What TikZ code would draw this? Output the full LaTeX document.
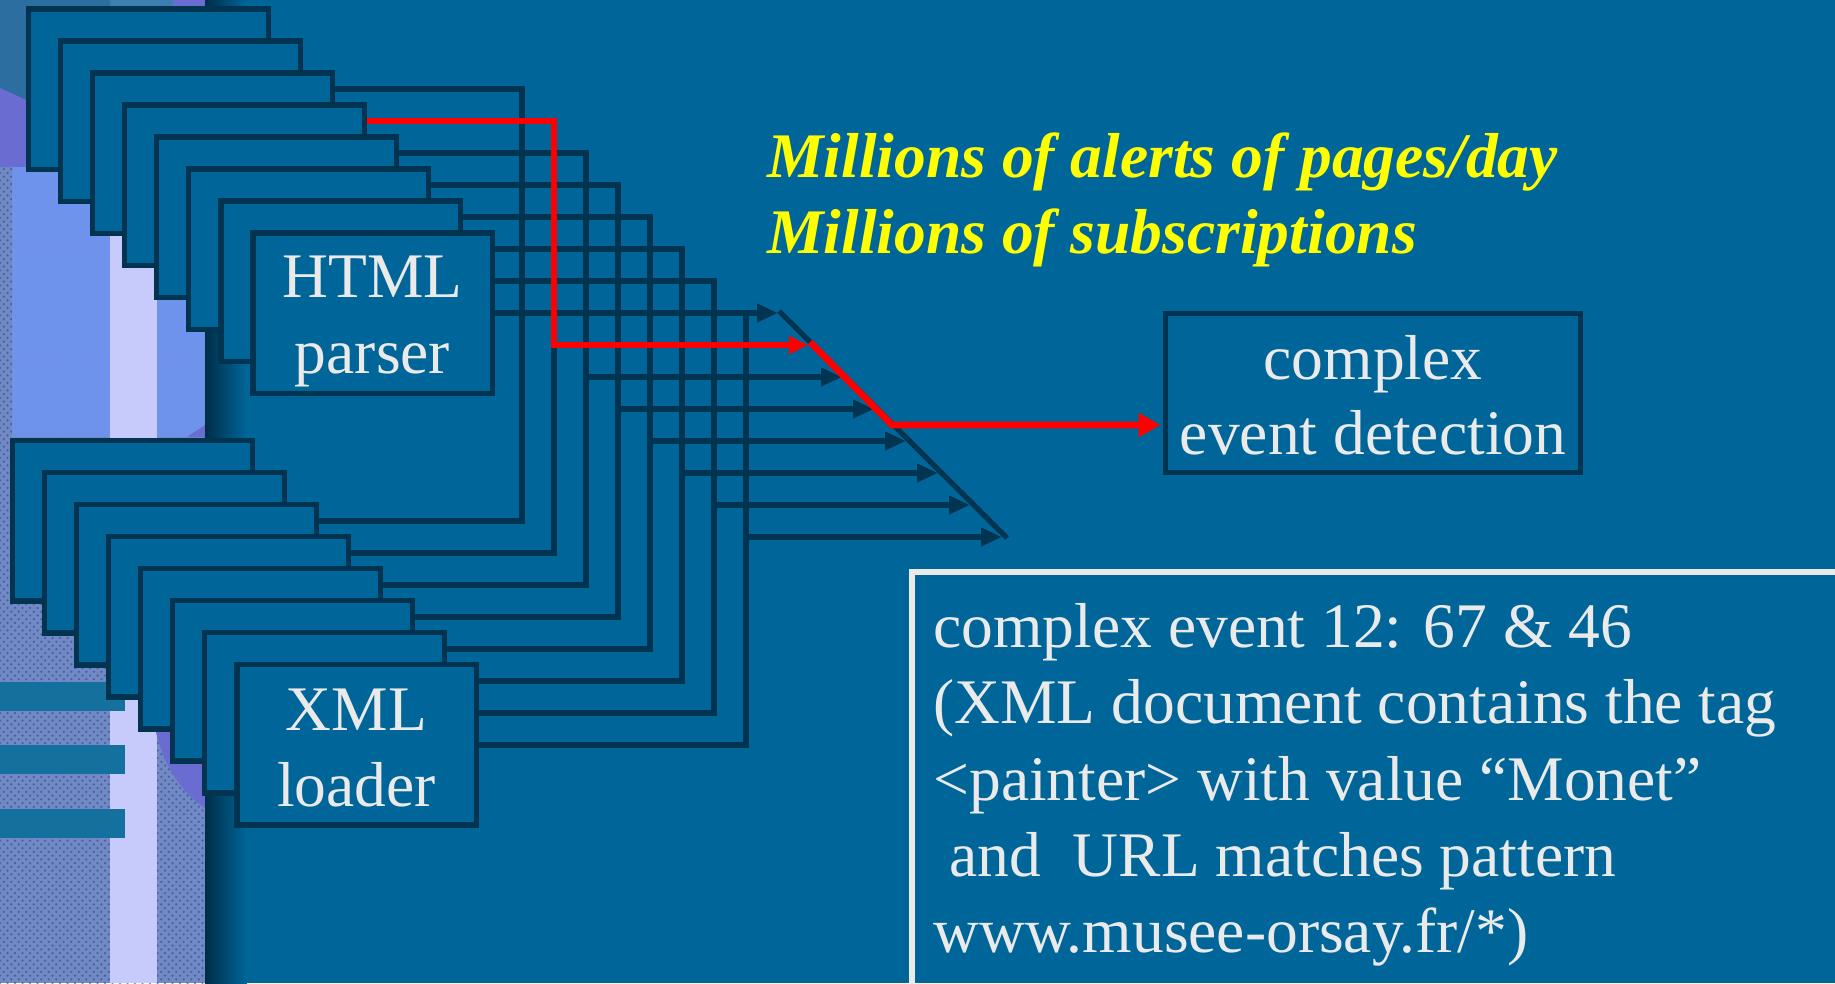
\documentclass[tikz,border=0pt]{standalone}
\usepackage{fontspec}
\setmainfont{Liberation Serif}
\usetikzlibrary{arrows.meta,patterns,calc}
\definecolor{bg}{HTML}{006699}
\definecolor{dk}{HTML}{003450}
\definecolor{txt}{HTML}{EAEAEA}
\definecolor{burlap}{HTML}{7189C4}
\definecolor{burlapdk}{HTML}{2E4680}
\definecolor{tealtex}{HTML}{2B6E9F}
\definecolor{tealtexl}{HTML}{3D7FAE}
\definecolor{purp}{HTML}{6A6CD2}
\definecolor{peri}{HTML}{6E93EF}
\definecolor{lav}{HTML}{C7CBFB}
\definecolor{tealbar}{HTML}{14709C}
\definecolor{shadowdk}{HTML}{002E48}
\definecolor{yel}{HTML}{FFFF00}
\definecolor{redl}{HTML}{FF0000}
\newcommand{\slidefont}{\fontsize{25.4pt}{30.4pt}\selectfont}
\pgfdeclarelayer{backdrop}
\pgfdeclarelayer{wires}
\pgfsetlayers{backdrop,wires,main}
\begin{document}
\begin{tikzpicture}[x=0.4pt,y=-0.4pt,line join=miter,
  box/.style={draw=dk,line width=2.2pt,fill=bg,minimum width=95.8pt,minimum height=64.2pt,inner sep=0pt},
  wire/.style={draw=dk,line width=2.1pt},
  redwire/.style={draw=redl,line width=2.6pt},
  lbl/.style={text=txt,font=\slidefont,anchor=base,inner sep=0pt},
  note/.style={text=txt,font=\slidefont,anchor=base west,inner sep=0pt},
  yl/.style={text=yel,font=\slidefont\bfseries\itshape,anchor=base west,inner sep=0pt},
  dtip/.style={-{Triangle[length=8.4pt,width=7pt]}}]
\useasboundingbox (0,0) rectangle (1835,983);
\clip (0,0) rectangle (1835,983);
% ---------------- boxes (main layer)
\foreach \k in {0,...,7}
  \node[box] (h\k) at ({148.5+32*\k},{89+32*\k}) {};
\foreach \k in {0,...,7}
  \node[box] (x\k) at ({132.5+32*\k},{520.5+32*\k}) {};
\node[draw=dk,line width=2pt,fill=bg,minimum width=166pt,minimum height=63.6pt,inner sep=0pt] (cx) at (1373,393) {};
\node[lbl] (hl1) at (372.5,297) {HTML};
\node[lbl] (hl2) at (372.5,373) {parser};
\node[lbl] (xl1) at (356.5,730) {XML};
\node[lbl] (xl2) at (356.5,806) {loader};
\node[lbl] (cl1) at (1373,379) {complex};
\node[lbl] (cl2) at (1373,454) {event detection};
\node[yl] (y1) at (767,177) {Millions of alerts of pages/day};
\node[yl] (y2) at (767,253) {Millions of subscriptions};
\node[draw=txt,line width=2.4pt,anchor=north west,minimum width=400pt,minimum height=200pt,inner sep=0pt] (nb) at (909,569) {};
\node[note] (n1) at (933,647) {complex event 12: 67 \& 46};
\node[note] (n2) at (933,723) {(XML document contains the tag};
\node[note] (n3) at (933,800) {<painter> with value “Monet”};
\node[note] (n4) at (949,876) {and\ \ URL matches pattern};
\node[note] (n5) at (933,952) {www.musee-orsay.fr/*)};
% ---------------- wires
\begin{pgfonlayer}{wires}
\coordinate (barA) at (779,311);
\coordinate (barB) at (1007,538);
\foreach \i in {0,...,7}{
  \pgfmathtruncatemacro\k{min(\i+2,7)}
  \pgfmathsetmacro\yh{89+32*\i}
  \pgfmathsetmacro\xv{522+32*\i}
  \pgfmathsetmacro\yx{521+32*\i}
  \draw[wire] (h\k.center |- 0,\yh) -| (\xv,\yx) -- (x\k.center |- 0,\yx);
}
\foreach \i in {0,2,3,4,5,6,7}{
  \pgfmathsetmacro\xv{522+32*\i}
  \pgfmathsetmacro\ya{313+32*\i}
  \pgfmathsetmacro\xt{778+32*\i}
  \draw[wire,dtip] (\xv,\ya) -- (\xt,\ya);
}
\draw[wire,line cap=butt] (barA) -- (barB);
\draw[redwire,-{Triangle[length=7.6pt,width=6.8pt]}] (h3.center |- 0,121) -| (554,345) -- (808,345);
\draw[redwire,line width=2.7pt,shorten >=1pt,-{Triangle[length=8.8pt,width=9.2pt]}] (810,342) -- (892,425) -- (cx.west |- 0,425);
\end{pgfonlayer}
% ---------------- backdrop
\begin{pgfonlayer}{backdrop}
\fill[bg] (0,0) rectangle (1835,983);
\fill[burlap] (0,0) rectangle (205,983);
\fill[pattern=crosshatch dots,pattern color=burlapdk,fill opacity=0.6] (0,0) rectangle (205,983);
\fill[tealtex] (0,0) -- (110,0) -- (110,120) -- (26,100) -- (0,88) -- cycle;
\fill[tealtexl] (110,0) rectangle (173,8);
\fill[purp] (173,0) rectangle (205,8);
\fill[purp] (0,88) -- (26,100) -- (26,167) -- (0,167) -- cycle;
\fill[peri] (12,167) rectangle (205,437);
\fill[pattern=dots,pattern color=burlapdk!60,fill opacity=0.6] (12,167) rectangle (205,437);
\fill[lav] (110,167) rectangle (157,983);
\fill[purp] (187,437) -- (205,425) -- (205,437) -- cycle;
\fill[purp] (156,732) .. controls (165,770) and (185,795) .. (205,808) -- (205,732) -- cycle;
\foreach \yy in {682,745,809}
  \fill[tealbar] (0,\yy) rectangle (125,\yy+29);
\shade[left color=shadowdk,right color=bg] (205,0) rectangle (247,983);
\end{pgfonlayer}
\end{tikzpicture}
\end{document}
